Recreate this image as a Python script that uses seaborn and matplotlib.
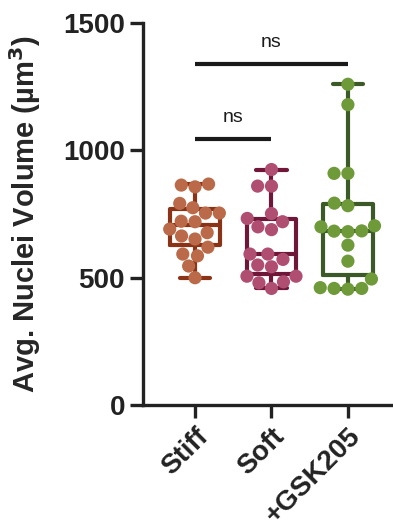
import matplotlib
matplotlib.use("Agg")
import matplotlib.pyplot as plt
import seaborn as sns
import pandas as pd
import numpy as np

categories = ["Stiff", "Soft", "+GSK205"]
stiff = [868, 857, 864, 792, 775, 754, 754, 720, 722, 691, 664, 677, 652, 620, 586, 593, 546, 500]
soft = [925, 860, 860, 752, 720, 733, 689, 700, 593, 593, 572, 550, 543, 506, 506, 480, 484, 458]
gsk = [1260, 1180, 910, 910, 783, 793, 684, 681, 700, 704, 683, 628, 565, 495, 458, 458, 461, 455]
point_colors = ["#BA6A48", "#B04E72", "#6F9A3A"]
box_colors = ["#8A3317", "#6E1739", "#3C5A27"]
ns_pairs = [(0, 1, 1044, 1112), (0, 2, 1338, 1406)]
yticks = [0, 500, 1000, 1500]

df = pd.DataFrame({
    "group": [categories[0]] * len(stiff) + [categories[1]] * len(soft) + [categories[2]] * len(gsk),
    "value": stiff + soft + gsk,
})

sns.set_style("ticks")
plt.rcParams["font.family"] = ["Liberation Sans", "DejaVu Sans"]

fig = plt.figure(figsize=(3.93, 5.27), dpi=100)
ax = fig.add_axes([0.364, 0.2315, 0.636, 0.7245])

sns.boxplot(data=df, x="group", y="value", hue="group", order=categories,
            hue_order=categories, palette=box_colors, fill=False, whis=(0, 100),
            width=0.65, linewidth=3.0, capwidths=0.4, legend=False, ax=ax,
            showfliers=False)
sns.swarmplot(data=df, x="group", y="value", hue="group", order=categories,
              hue_order=categories, palette=point_colors, size=9.5, legend=False,
              ax=ax, zorder=5)

for a, b, yl, yt in ns_pairs:
    ax.plot([a, b], [yl, yl], color="#1a1a1a", lw=3, solid_capstyle="butt", clip_on=False)
    ax.text((a + b) / 2, yt, "ns", ha="center", va="baseline", fontsize=14, color="#1a1a1a")

ax.set_xlim(-0.68, 2.59)
ax.set_ylim(0, 1500)
ax.set_yticks(yticks)
ax.set_yticklabels([str(t) for t in yticks], fontsize=20, fontweight="bold")
ax.set_xticks(range(len(categories)))
ax.set_xticklabels(categories, rotation=45, ha="right", rotation_mode="anchor",
                   fontsize=20, fontweight="bold")
ax.set_xlabel("")
ax.set_ylabel("Avg. Nuclei Volume (µm$^\\mathbf{3}$)", fontsize=21, fontweight="bold")
ax.yaxis.set_label_coords(-0.40, 0.5)
for s in ["top", "right"]:
    ax.spines[s].set_visible(False)
for s in ["left", "bottom"]:
    ax.spines[s].set_linewidth(2.4)
    ax.spines[s].set_color("#222222")
ax.tick_params(axis="both", length=9.5, width=2.4, color="#222222", labelcolor="#222222")

fig.savefig("out.png", dpi=100)
